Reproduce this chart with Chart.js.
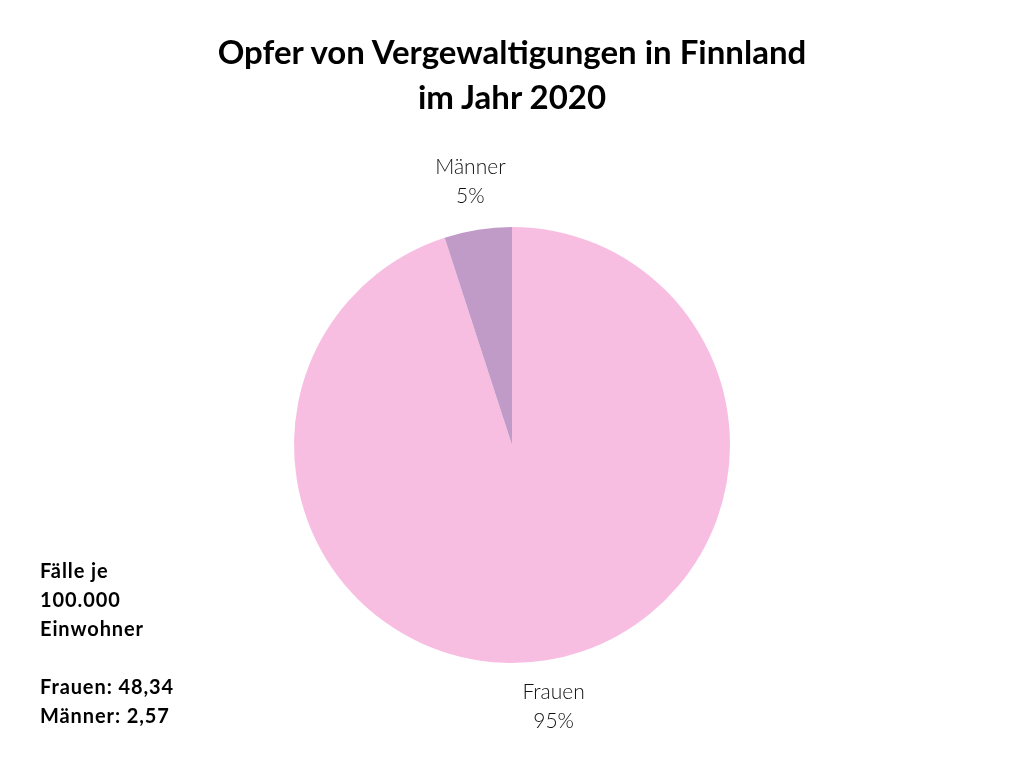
<!DOCTYPE html>
<html>
<head>
<meta charset="utf-8">
<script src="https://cdn.jsdelivr.net/npm/chart.js@4"></script>
<style>
  html, body { margin: 0; padding: 0; background: #fff; }
  #wrap { position: relative; width: 1024px; height: 768px; }
  #title {
    position: absolute; left: 0; top: 29px; width: 1024px; text-align: center;
    font-family: Lato, sans-serif; font-weight: 700; font-size: 33px; line-height: 45px; color: #000;
  }
  #note {
    position: absolute; left: 40px; top: 556px;
    font-family: Lato, sans-serif; font-weight: 700; font-size: 20px; line-height: 29px;
    letter-spacing: 0.9px; color: #000;
  }
</style>
</head>
<body>
<div id="wrap">
  <canvas id="pie" width="1024" height="768"></canvas>
  <div id="title">Opfer von Vergewaltigungen in Finnland<br>im Jahr 2020</div>
  <div id="note">Fälle je<br>100.000<br>Einwohner<br><br>Frauen: 48,34<br>Männer: 2,57</div>
</div>
<script>
// data
var labels = ['Frauen', 'Männer'];
var shares = [95, 5];
var colors = ['#f8bee2', '#c19bc8'];

// slice labels outside the pie, at each arc's middle angle
var outsideLabels = {
    id: 'outsideLabels',
    afterDatasetsDraw: function (chart) {
        var ctx = chart.ctx;
        var meta = chart.getDatasetMeta(0);
        ctx.save();
        ctx.font = '300 21px Lato, sans-serif';
        ctx.fillStyle = '#111';
        ctx.textAlign = 'center';
        ctx.textBaseline = 'middle';
        meta.data.forEach(function (arc, i) {
            var p = arc.getProps(['x', 'y', 'startAngle', 'endAngle', 'outerRadius'], true);
            var mid = (p.startAngle + p.endAngle) / 2;
            var r = p.outerRadius + 48;
            var x = p.x + Math.cos(mid) * r;
            var y = p.y + Math.sin(mid) * r;
            ctx.fillText(labels[i], x, y - 15);
            ctx.fillText(shares[i] + '%', x, y + 14);
        });
        ctx.restore();
    }
};

new Chart(document.getElementById('pie').getContext('2d'), {
    type: 'pie',
    data: {
        labels: labels,
        datasets: [{
            data: shares,
            backgroundColor: colors,
            borderWidth: 0
        }]
    },
    options: {
        responsive: false,
        animation: false,
        layout: { padding: { top: 227, bottom: 105, left: 200, right: 200 } },
        plugins: {
            legend: { display: false },
            tooltip: { enabled: false }
        }
    },
    plugins: [outsideLabels]
});
</script>
</body>
</html>
